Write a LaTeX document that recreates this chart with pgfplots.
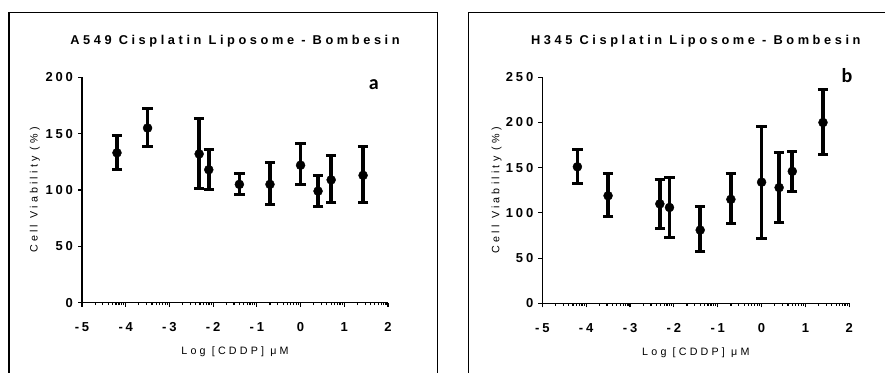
\documentclass[border=0pt]{standalone}
\usepackage{fontspec}
\setmainfont{Liberation Sans}
\newfontfamily\trackA[LetterSpace=22]{Liberation Sans Bold}
\newfontfamily\trackB[LetterSpace=30]{Liberation Sans}
\newfontfamily\trackT[LetterSpace=28]{Liberation Sans}
\newfontfamily\carl{Carlito}
\usepackage{pgfplots}
\pgfplotsset{compat=1.18}
\newcommand\tkf{\trackA\fontsize{13}{15}\selectfont}
\pgfplotsset{
  cellstyle/.style={
    scale only axis,
    anchor=south west,
    xmin=-5, xmax=2, ymin=0,
    axis x line*=bottom, axis y line*=left,
    axis line style={line width=1.5pt},
    every tick/.style={line width=1.2pt, black},
    tick align=outside,
    major tick length=4pt, minor tick length=2.5pt,
    xtick={-5,-4,-3,-2,-1,0,1,2},
    minor xtick={-4.699,-4.523,-4.398,-4.301,-4.222,-4.155,-4.097,-4.046,
                 -3.699,-3.523,-3.398,-3.301,-3.222,-3.155,-3.097,-3.046,
                 -2.699,-2.523,-2.398,-2.301,-2.222,-2.155,-2.097,-2.046,
                 -1.699,-1.523,-1.398,-1.301,-1.222,-1.155,-1.097,-1.046,
                 -0.699,-0.523,-0.398,-0.301,-0.222,-0.155,-0.097,-0.046,
                 0.301,0.477,0.602,0.699,0.778,0.845,0.903,0.954,
                 1.301,1.477,1.602,1.699,1.778,1.845,1.903,1.954},
    xticklabels={-5,-4,-3,-2,-1,0,1,2},
    every tick label/.append style={font=\tkf},
    xticklabel style={font=\tkf, anchor=base, yshift=-24.9pt},
    yticklabel style={font=\tkf, anchor=east, xshift=-1.5pt},
    label style={font=\trackB\fontsize{10.7}{12}\selectfont},
    title style={font=\trackT\bfseries\fontsize{12.8}{14}\selectfont, anchor=base},
    xlabel={Log [CDDP] μM},
    ylabel={Cell Viability (\%)},
    clip=false,
  },
  errstyle/.style={
    only marks, black, mark=*, mark size=4.5pt, mark options={fill=black, draw=black},
    error bars/.cd, y dir=both, y explicit,
    error bar style={line width=3.6pt, black},
    error mark options={rotate=90, line width=3pt, mark size=5.2pt, black},
  }
}
\begin{document}
\begin{tikzpicture}[x=1pt,y=1pt]
\useasboundingbox (0,0) rectangle (885,372);
\draw[line width=1.3pt] (9,-10) -- (9,359.3) -- (437.7,359.3) -- (437.7,-10);
\draw[line width=1.3pt] (468.3,-10) -- (468.3,359.3) -- (900,359.3);
% Left panel
\begin{axis}[cellstyle,
  at={(82pt,69.3pt)}, width=306pt, height=225.4pt,
  ymax=200, ytick={0,50,100,150,200},
  yticklabels={0,50,100,150,200},
  title={A549 Cisplatin Liposome - Bombesin},
  title style={at={(axis description cs:0.5,1.118)}},
  xlabel style={at={(axis description cs:0.5,-0.229)}, anchor=base},
  ylabel style={at={(axis description cs:-0.154,0.5)}, anchor=center},
]
\addplot[errstyle] coordinates {
  (-4.2,133) += (0,15) -= (0,15)
  (-3.5,155) += (0,17) -= (0,16)
  (-2.32,132) += (0,31) -= (0,31)
  (-2.1,118) += (0,18) -= (0,18)
  (-1.4,105) += (0,10) -= (0,9)
  (-0.7,105) += (0,19) -= (0,18)
  (0,122) += (0,19) -= (0,17)
  (0.4,99) += (0,14) -= (0,14)
  (0.7,109) += (0,22) -= (0,20)
  (1.43,113) += (0,26) -= (0,24)
};
\node[font=\carl\bfseries\fontsize{20}{22}\selectfont, anchor=base] at (rel axis cs:0.954,0.948) {a};
\end{axis}
% Right panel
\begin{axis}[cellstyle,
  at={(542.3pt,68.7pt)}, width=307pt, height=226pt,
  ymax=250, ytick={0,50,100,150,200,250},
  yticklabels={0,50,100,150,200,250},
  title={H345 Cisplatin Liposome - Bombesin},
  title style={at={(axis description cs:0.5,1.1177)}},
  xlabel style={at={(axis description cs:0.5,-0.229)}, anchor=base},
  ylabel style={at={(axis description cs:-0.1485,0.5)}, anchor=center},
]
\addplot[errstyle] coordinates {
  (-4.2,151) += (0,19) -= (0,18)
  (-3.5,119) += (0,25) -= (0,23)
  (-2.32,110) += (0,27) -= (0,27)
  (-2.1,106) += (0,33) -= (0,33)
  (-1.4,81) += (0,26) -= (0,24)
  (-0.7,115) += (0,29) -= (0,27)
  (0,134) += (0,62) -= (0,62)
  (0.4,128) += (0,39) -= (0,39)
  (0.7,146) += (0,22) -= (0,22)
  (1.4,200) += (0,37) -= (0,35)
};
\node[font=\carl\bfseries\fontsize{20}{22}\selectfont, anchor=base] at (rel axis cs:0.9925,0.976) {b};
\end{axis}
\end{tikzpicture}
\end{document}
